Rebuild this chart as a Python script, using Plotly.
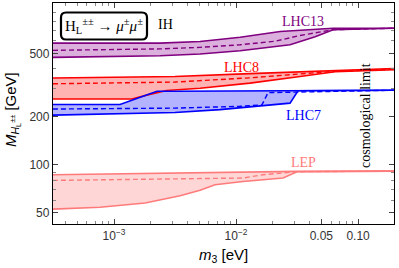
import plotly.graph_objects as go
import numpy as np

# ---------------- data (m3 in eV, mass in GeV) ----------------
lhc13_up_m = [3.16e-4, 2.38e-3, 5.07e-3, 1.08e-2, 2.30e-2, 4.05e-2, 6.24e-2, 0.197]
lhc13_up = [582, 582, 596, 634, 689, 711, 722, 722]
lhc13_lo_m = [3.16e-4, 2.38e-3, 5.07e-3, 1.08e-2, 2.77e-2, 4.45e-2, 6.24e-2, 0.197]
lhc13_lo = [473, 485, 497, 521, 568, 638, 706, 722]
lhc13_da_m = [3.16e-4, 2.38e-3, 5.07e-3, 1.08e-2, 2.09e-2, 3.35e-2, 6.24e-2, 0.197]
lhc13_da = [524, 535, 547, 568, 598, 650, 706, 722]

lhc8_up_m = [3.16e-4, 3.16e-3, 1.30e-2, 3.35e-2, 6.47e-2, 0.197]
lhc8_up = [351, 359, 374, 384, 393, 403]
lhc8_lo_m = [3.16e-4, 1.4e-3, 2.0e-3, 2.7e-3, 5.07e-3, 1.30e-2, 3.35e-2, 6.47e-2, 0.197]
lhc8_lo = [259, 259, 278, 293, 303, 326, 359, 384, 396]
lhc8_da_m = [3.16e-4, 3.16e-3, 1.30e-2, 3.35e-2, 6.47e-2, 0.197]
lhc8_da = [323, 331, 352, 371, 387, 399]

lhc7_up_m = [3.16e-4, 1.12e-3, 2.25e-3, 3.16e-3, 0.197]
lhc7_up = [239, 239, 290, 290, 294]
lhc7_lo_m = [3.16e-4, 3.16e-3, 7.39e-3, 1.57e-2, 2.77e-2, 3.22e-2, 0.197]
lhc7_lo = [205, 213, 222, 235, 244, 292, 294]
lhc7_da_m = [3.16e-4, 3.16e-3, 1.08e-2, 1.63e-2, 1.83e-2, 0.197]
lhc7_da = [224, 227, 233, 238, 284, 294]

lep_up_m = [3.16e-4, 1.35e-3, 6.73e-3, 3.16e-2, 0.197]
lep_up = [86.5, 87.8, 89.7, 90.8, 91.2]
lep_lo_m = [3.16e-4, 7.68e-4, 1.80e-3, 3.48e-3, 5.07e-3, 6.73e-3, 1.14e-2, 2.43e-2, 3.16e-2, 0.197]
lep_lo = [52.6, 54.0, 57.4, 63.8, 69.1, 74.8, 78.5, 82.5, 90.4, 91.2]
lep_da_m = [3.16e-4, 6.73e-3, 1.14e-2, 1.66e-2, 3.16e-2, 0.197]
lep_da = [79.7, 81.7, 82.5, 86.5, 90.4, 91.2]

cosmo_limit = 0.0656

xtick_vals = [1e-3, 1e-2, 0.05, 0.10]
xtick_text = ["10<sup>\u22123</sup>", "10<sup>\u22122</sup>", "0.05", "0.10"]
ytick_vals = [50, 100, 200, 500]
ytick_text = ["50", "100", "200", "500"]

bands = [
    ("LHC13", lhc13_up_m, lhc13_up, lhc13_lo_m, lhc13_lo, lhc13_da_m, lhc13_da, "#800080", "#dcb0dc"),
    ("LHC8", lhc8_up_m, lhc8_up, lhc8_lo_m, lhc8_lo, lhc8_da_m, lhc8_da, "#ff0000", "#ffb3b3"),
    ("LHC7", lhc7_up_m, lhc7_up, lhc7_lo_m, lhc7_lo, lhc7_da_m, lhc7_da, "#0000ff", "#b3b3ff"),
    ("LEP", lep_up_m, lep_up, lep_lo_m, lep_lo, lep_da_m, lep_da, "#ff7b7b", "#ffd6d6"),
]

fig = go.Figure()
for name, um, u, lm, l, dm, d, lc, fc in bands:
    fig.add_trace(go.Scatter(x=list(um) + list(lm)[::-1], y=list(u) + list(l)[::-1],
                             fill="toself", fillcolor=fc, mode="none", hoverinfo="skip"))
for name, um, u, lm, l, dm, d, lc, fc in bands:
    fig.add_trace(go.Scatter(x=um, y=u, mode="lines", line=dict(color=lc, width=1.6)))
    fig.add_trace(go.Scatter(x=lm, y=l, mode="lines", line=dict(color=lc, width=1.6)))
    fig.add_trace(go.Scatter(x=dm, y=d, mode="lines", line=dict(color=lc, width=1.4, dash="5px,3px")))

W, H = 399, 268
L, R, T, B = 53, 5, 3, 44
pw, ph = W - L - R, H - T - B

def px(x):
    return (x - L) / pw

def py(y):
    return (H - B - y) / ph

shapes = [
    dict(type="rect", xref="x", yref="paper", x0=np.log10(cosmo_limit), x1=np.log10(0.197),
         y0=0, y1=1, fillcolor="#e5e5e5", line=dict(width=0), layer="below"),
    dict(type="line", xref="x", yref="paper", x0=np.log10(cosmo_limit), x1=np.log10(cosmo_limit),
         y0=0, y1=1, line=dict(color="#666666", width=1.2, dash="4px,3px")),
]
# rounded box
x0, x1, y0, y1 = px(61), px(147), py(39.5), py(12.5)
rx, ry = 5 / pw, 5 / ph
path = (f"M {x0+rx},{y0} L {x1-rx},{y0} Q {x1},{y0} {x1},{y0+ry} L {x1},{y1-ry} "
        f"Q {x1},{y1} {x1-rx},{y1} L {x0+rx},{y1} Q {x0},{y1} {x0},{y1-ry} "
        f"L {x0},{y0+ry} Q {x0},{y0} {x0+rx},{y0} Z")
shapes.append(dict(type="path", xref="paper", yref="paper", path=path,
                   line=dict(color="black", width=2.2), fillcolor="white"))

serif = "Liberation Serif, Times New Roman, serif"
sans = "Liberation Sans, Arial, sans-serif"
ann = [
    dict(x=px(104), y=py(26), text="H<sub>L</sub><sup>\u00b1\u00b1</sup> \u2192 <i>\u03bc</i><sup>\u00b1</sup><i>\u03bc</i><sup>\u00b1</sup>",
         font=dict(family=serif, size=15, color="black")),
    dict(x=px(165), y=py(25), text="IH", font=dict(family=serif, size=14, color="black")),
    dict(x=px(303), y=py(21.5), text="LHC13", font=dict(family=serif, size=14, color="#800080")),
    dict(x=px(242), y=py(68), text="LHC8", font=dict(family=serif, size=14, color="#ff0000")),
    dict(x=px(303), y=py(116), text="LHC7", font=dict(family=serif, size=14, color="#0000ff")),
    dict(x=px(303), y=py(162), text="LEP", font=dict(family=serif, size=14, color="#ff7b7b")),
    dict(x=px(366), y=py(116), text="cosmological limit", textangle=-90,
         font=dict(family=serif, size=14, color="black")),
    dict(x=px(13), y=py(110), text="<i>M</i><sub><i>H</i><sub>L</sub><sup>\u00b1\u00b1</sup></sub> [GeV]", textangle=-90,
         font=dict(family=sans, size=15, color="black")),
    dict(x=px(223), y=py(255), text="<i>m</i><sub>3</sub> [eV]",
         font=dict(family=sans, size=15, color="black")),
]
for a in ann:
    a.update(xref="paper", yref="paper", showarrow=False, xanchor="center", yanchor="middle")

xminor = [k * 10.0 ** e for e in range(-4, 0) for k in range(2, 10)]
yminor = [k * 10.0 ** e for e in range(1, 4) for k in range(2, 10)]

fig.update_layout(
    width=W, height=H, margin=dict(l=L, r=R, t=T, b=B, autoexpand=False),
    plot_bgcolor="white", paper_bgcolor="white", showlegend=False,
    shapes=shapes, annotations=ann,
    xaxis=dict(type="log", range=[-3.5, np.log10(0.197)], tickvals=xtick_vals, ticktext=xtick_text,
               ticks="inside", ticklen=5, tickcolor="#444", showgrid=False, zeroline=False, automargin=False,
               showline=True, linecolor="black", linewidth=1.3, mirror="ticks",
               tickfont=dict(family=sans, size=12, color="#333"),
               minor=dict(tickvals=xminor, ticks="inside", ticklen=3, tickcolor="#888", showgrid=False)),
    yaxis=dict(type="log", range=[np.log10(42.4), np.log10(1040)], tickvals=ytick_vals, ticktext=ytick_text,
               ticks="inside", ticklen=5, tickcolor="#444", showgrid=False, zeroline=False, automargin=False,
               showline=True, linecolor="black", linewidth=1.3, mirror="ticks",
               tickfont=dict(family=sans, size=12, color="#333"),
               minor=dict(tickvals=yminor, ticks="inside", ticklen=3, tickcolor="#888", showgrid=False)),
)
fig.write_html("out.html", config={"displayModeBar": False},
               post_script=["document.body.style.margin='0px';document.body.style.padding='0px';"])
